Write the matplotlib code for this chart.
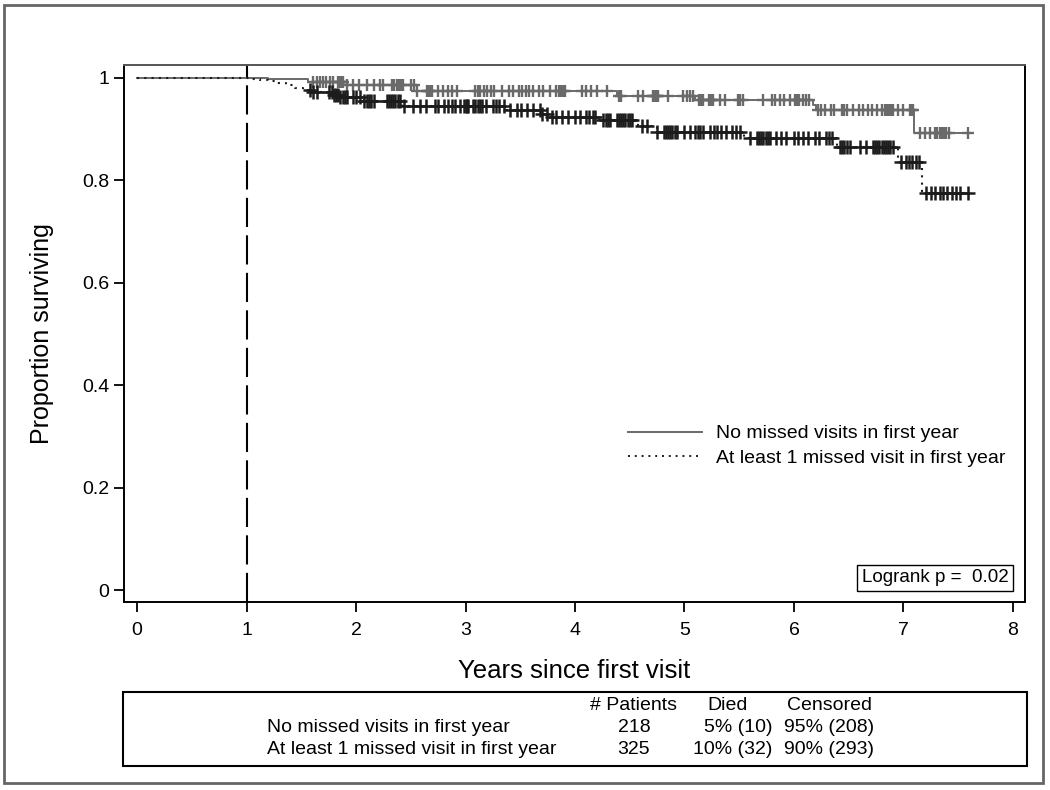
import numpy as np
import matplotlib
matplotlib.use("Agg")
import matplotlib.pyplot as plt
from matplotlib.patches import Rectangle
from matplotlib.lines import Line2D

plt.rcParams['font.family'] = ['Liberation Sans', 'DejaVu Sans']

# Kaplan-Meier steps (time in years, survival after the step)
gray_times = [0, 1.2, 1.56, 1.92, 2.56, 4.38, 5.1, 6.17, 6.2, 7.1]
gray_surv = [1.0, 0.997, 0.991, 0.985, 0.975, 0.964, 0.956, 0.947, 0.937, 0.892]
gray_end = 7.59

black_times = [0, 1.04, 1.12, 1.2, 1.28, 1.36, 1.44, 1.52, 1.6, 1.79, 1.85, 2.07,
               2.42, 3.38, 3.7, 3.75, 4.2, 4.58, 4.75, 5.54, 6.39, 6.95, 7.17]
black_surv = [1.0, 0.998, 0.996, 0.993, 0.989, 0.985, 0.981, 0.977, 0.972, 0.967,
              0.962, 0.954, 0.945, 0.937, 0.929, 0.924, 0.918, 0.905, 0.895, 0.882,
              0.865, 0.836, 0.775]
black_end = 7.59

# censoring times (approximate)
gray_cens = [1.61, 1.64, 1.67, 1.7, 1.73, 1.76, 1.79, 1.84, 1.85, 1.86, 1.87, 1.88,
             1.92, 1.97, 2.03, 2.1, 2.16, 2.22, 2.25, 2.33, 2.35, 2.37, 2.39, 2.41,
             2.43, 2.5, 2.53, 2.56, 2.65, 2.66, 2.67, 2.68, 2.69, 2.75, 2.79, 2.84,
             2.88, 2.92, 3.09, 3.11, 3.13, 3.17, 3.2, 3.23, 3.26, 3.33, 3.4, 3.43,
             3.49, 3.52, 3.55, 3.58, 3.62, 3.67, 3.71, 3.77, 3.83, 3.85, 3.87, 3.89,
             3.91, 4.06, 4.1, 4.15, 4.2, 4.29, 4.4, 4.42, 4.58, 4.62, 4.71, 4.72,
             4.73, 4.74, 4.75, 4.76, 4.85, 4.99, 5.02, 5.05, 5.08, 5.13, 5.15, 5.17,
             5.22, 5.23, 5.24, 5.25, 5.26, 5.32, 5.37, 5.49, 5.51, 5.53, 5.72, 5.8,
             5.83, 5.87, 5.91, 5.96, 6.01, 6.02, 6.03, 6.04, 6.05, 6.08, 6.11, 6.14,
             6.22, 6.25, 6.28, 6.34, 6.37, 6.44, 6.46, 6.48, 6.54, 6.59, 6.63, 6.68,
             6.71, 6.76, 6.8, 6.83, 6.85, 6.87, 6.89, 6.9, 6.95, 7.0, 7.06, 7.08,
             7.09, 7.15, 7.2, 7.24, 7.29, 7.31, 7.33, 7.35, 7.37, 7.39, 7.42, 7.59]

black_cens = [1.58, 1.61, 1.64, 1.75, 1.78, 1.8, 1.82, 1.84, 1.85, 1.88, 1.9, 1.92,
              1.97, 2.0, 2.04, 2.07, 2.1, 2.12, 2.14, 2.16, 2.28, 2.3, 2.32, 2.34,
              2.36, 2.38, 2.4, 2.44, 2.52, 2.58, 2.64, 2.72, 2.75, 2.8, 2.84, 2.88,
              2.9, 2.95, 2.99, 3.0, 3.01, 3.02, 3.07, 3.09, 3.11, 3.13, 3.15, 3.19,
              3.25, 3.28, 3.31, 3.35, 3.41, 3.47, 3.51, 3.56, 3.62, 3.68, 3.7, 3.74,
              3.79, 3.83, 3.88, 3.94, 4.0, 4.05, 4.1, 4.13, 4.16, 4.18, 4.26, 4.28,
              4.3, 4.32, 4.38, 4.4, 4.42, 4.44, 4.46, 4.48, 4.5, 4.52, 4.61, 4.66,
              4.75, 4.81, 4.83, 4.85, 4.87, 4.89, 4.91, 4.93, 5.0, 5.05, 5.1, 5.12,
              5.14, 5.17, 5.23, 5.27, 5.3, 5.33, 5.38, 5.43, 5.47, 5.51, 5.6, 5.66,
              5.68, 5.7, 5.72, 5.74, 5.76, 5.78, 5.84, 5.88, 5.93, 6.0, 6.04, 6.08,
              6.13, 6.19, 6.23, 6.29, 6.32, 6.35, 6.42, 6.44, 6.46, 6.48, 6.51, 6.6,
              6.66, 6.72, 6.74, 6.76, 6.78, 6.8, 6.82, 6.84, 6.86, 6.88, 6.9, 6.98,
              7.02, 7.05, 7.08, 7.11, 7.14, 7.21, 7.25, 7.29, 7.33, 7.36, 7.4, 7.44,
              7.48, 7.52, 7.59]

labels = ["No missed visits in first year", "At least 1 missed visit in first year"]
n_patients = [218, 325]
died = ["5% (10)", "10% (32)"]
censored = ["95% (208)", "90% (293)"]
pvalue = "0.02"

W, H = 1050, 790
fig = plt.figure(figsize=(W / 100, H / 100), dpi=100)
ax = fig.add_axes([124 / W, 1 - 602 / H, (1025 - 124) / W, (602 - 65) / H])


def surv_at(times, surv, t):
    i = np.searchsorted(times, t, side='right') - 1
    return np.array(surv)[i]


gray_col = '#6a6a6a'
black_col = '#1c1c1c'

ax.step(gray_times + [gray_end], gray_surv + [gray_surv[-1]], where='post',
        color=gray_col, lw=1.4, zorder=3)
ax.plot(gray_cens, surv_at(gray_times, gray_surv, gray_cens), ls='none', marker='+',
        ms=9, mew=1.7, color=gray_col, zorder=3)

ax.step(black_times + [black_end], black_surv + [black_surv[-1]], where='post',
        color=black_col, lw=1.5, ls=(0, (1, 2.5)), zorder=4)
ax.plot(black_cens, surv_at(black_times, black_surv, black_cens), ls='none', marker='+',
        ms=10, mew=1.8, color=black_col, zorder=4)

ax.axvline(1, color='black', lw=1.5, ls=(0, (14, 4)), zorder=2)

ax.set_xlim(-0.119, 8.11)
ax.set_ylim(-0.023, 1.025)
ax.set_xticks(range(0, 9))
ax.set_yticks([0, 0.2, 0.4, 0.6, 0.8, 1])
ax.set_yticklabels(['0', '0.2', '0.4', '0.6', '0.8', '1'])
ax.tick_params(direction='out', length=7.5, width=1.3, labelsize=14)
ax.tick_params(axis='x', pad=7)
ax.tick_params(axis='y', pad=3)
for s in ax.spines.values():
    s.set_linewidth(1.4)
ax.spines['top'].set_color('#555555')

ax.set_xlabel("Years since first visit", fontsize=18.5, labelpad=14)
ax.set_ylabel("Proportion surviving", fontsize=18, labelpad=20)

handles = [Line2D([], [], color=gray_col, lw=1.4),
           Line2D([], [], color=black_col, lw=1.4, ls=(0, (1, 2.5)))]
ax.legend(handles, labels, loc='upper left', bbox_to_anchor=(0.559, 0.33),
          frameon=False, fontsize=14, handlelength=3.8, handletextpad=0.75,
          labelspacing=0.35, borderpad=0, borderaxespad=0)

ax.text(0.982, 0.045, "Logrank p =  " + pvalue, transform=ax.transAxes, ha='right',
        va='center', fontsize=13.5,
        bbox=dict(boxstyle='square,pad=0.25', fc='white', ec='black', lw=1))

# outer frame and table box
fig.add_artist(Rectangle((4 / W, 1 - 783 / H), 1039 / W, 778 / H, transform=fig.transFigure,
                         fill=False, ec='#666666', lw=2))
fig.add_artist(Rectangle((123 / W, 1 - 766 / H), 904 / W, 74 / H, transform=fig.transFigure,
                         fill=False, ec='black', lw=1.5))

tfont = dict(fontsize=14, family=['Liberation Sans Narrow', 'Liberation Sans'])
fig.text(633 / W, 1 - 705 / H, "# Patients", ha='center', va='center', **tfont)
fig.text(728 / W, 1 - 705 / H, "Died", ha='center', va='center', **tfont)
fig.text(829 / W, 1 - 705 / H, "Censored", ha='center', va='center', **tfont)
row_y = [727, 750]
for i in range(2):
    y = 1 - row_y[i] / H
    fig.text(267 / W, y, labels[i], ha='left', va='center', **tfont)
    fig.text(634 / W, y, str(n_patients[i]), ha='center', va='center', **tfont)
    fig.text(772 / W, y, died[i], ha='right', va='center', **tfont)
    fig.text(784 / W, y, censored[i], ha='left', va='center', **tfont)

fig.savefig("out.png", dpi=100)
